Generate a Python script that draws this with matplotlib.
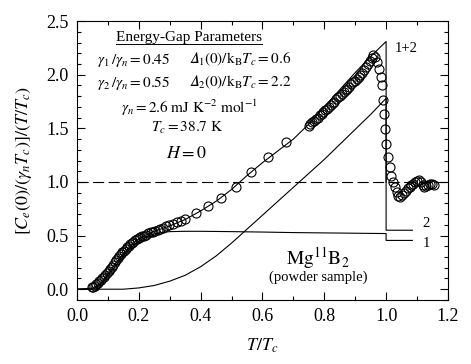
import matplotlib
matplotlib.use("Agg")
from matplotlib import pyplot as plt
from matplotlib.ticker import MultipleLocator, FormatStrFormatter

# measured C/T data (T/Tc, C/(gamma_n T))
t_data = [0.047, 0.052, 0.057, 0.062, 0.067, 0.072, 0.077, 0.082, 0.087, 0.092,
          0.097, 0.102, 0.107, 0.112, 0.117, 0.122, 0.127, 0.132, 0.137, 0.142,
          0.147, 0.152, 0.157, 0.162, 0.167, 0.172, 0.177, 0.182, 0.187, 0.193,
          0.199, 0.205, 0.211, 0.217, 0.224, 0.231, 0.238, 0.245, 0.253, 0.261,
          0.270, 0.279, 0.289, 0.299, 0.310, 0.322, 0.335, 0.350,
          0.385, 0.424, 0.466, 0.513, 0.563, 0.617, 0.676,
          0.749, 0.755, 0.761, 0.767, 0.773, 0.779, 0.785, 0.791, 0.797, 0.803,
          0.809, 0.815, 0.821, 0.827, 0.833, 0.839, 0.845, 0.851, 0.857, 0.863,
          0.869, 0.875, 0.881, 0.887, 0.893, 0.899, 0.905, 0.911, 0.917, 0.923,
          0.929, 0.935, 0.941, 0.947, 0.953, 0.959, 0.965,
          0.972, 0.978, 0.983, 0.986, 0.989, 0.994, 0.997, 1.001, 1.006, 1.012,
          1.017, 1.022, 1.028, 1.034, 1.040, 1.046, 1.052, 1.058, 1.064, 1.070,
          1.076, 1.082, 1.088, 1.094, 1.100, 1.106, 1.112, 1.118, 1.124, 1.130,
          1.136, 1.142, 1.148, 1.154]
c_data = [0.016, 0.02, 0.03, 0.045, 0.06, 0.075, 0.085, 0.10, 0.115, 0.13,
          0.15, 0.17, 0.19, 0.21, 0.23, 0.25, 0.27, 0.29, 0.31, 0.33,
          0.345, 0.36, 0.375, 0.39, 0.405, 0.42, 0.43, 0.44, 0.455, 0.465,
          0.475, 0.485, 0.495, 0.50, 0.51, 0.52, 0.53, 0.535, 0.545, 0.555,
          0.565, 0.575, 0.585, 0.60, 0.61, 0.625, 0.64, 0.655,
          0.71, 0.775, 0.853, 0.95, 1.09, 1.23, 1.37,
          1.525, 1.54, 1.555, 1.57, 1.585, 1.60, 1.62, 1.635, 1.65, 1.67,
          1.685, 1.70, 1.72, 1.735, 1.75, 1.77, 1.79, 1.80, 1.82, 1.84,
          1.86, 1.87, 1.89, 1.91, 1.93, 1.945, 1.96, 1.98, 2.00, 2.02,
          2.04, 2.07, 2.10, 2.13, 2.16, 2.18, 2.17,
          2.12, 2.05, 1.98, 1.90, 1.765, 1.63, 1.49, 1.355, 1.237, 1.14,
          1.06, 1.00, 0.95, 0.905, 0.87, 0.86, 0.88, 0.90, 0.92, 0.94,
          0.95, 0.97, 0.98, 1.00, 1.01, 1.02, 1.00, 0.97, 0.95, 0.96,
          0.97, 0.98, 0.98, 0.975]

# two-gap model curves
t_sum = [0.0, 0.05, 0.075, 0.1, 0.125, 0.15, 0.175, 0.2, 0.225, 0.25, 0.3, 0.35,
         0.4, 0.45, 0.5, 0.55, 0.6, 0.65, 0.7, 0.75, 0.8, 0.85, 0.9, 0.95, 1.0, 1.0]
c_sum = [0.0, 0.01, 0.05, 0.14, 0.24, 0.33, 0.41, 0.47, 0.51, 0.54, 0.59, 0.65,
         0.73, 0.82, 0.93, 1.06, 1.18, 1.29, 1.40, 1.54, 1.70, 1.86, 2.02, 2.17, 2.31, 1.0]

t_gap1 = [0.0, 0.05, 0.075, 0.1, 0.125, 0.15, 0.175, 0.2, 0.225, 0.25, 0.275, 0.3,
          0.35, 0.4, 0.5, 0.6, 0.7, 0.8, 0.9, 1.0, 1.0, 1.085]
c_gap1 = [0.0, 0.0, 0.04, 0.12, 0.22, 0.31, 0.39, 0.45, 0.49, 0.515, 0.53, 0.537,
          0.54, 0.54, 0.537, 0.533, 0.528, 0.525, 0.522, 0.519, 0.455, 0.455]

t_gap2 = [0.0, 0.15, 0.2, 0.25, 0.3, 0.35, 0.4, 0.45, 0.5, 0.55, 0.6, 0.65, 0.7,
          0.75, 0.8, 0.85, 0.9, 0.95, 1.0, 1.0, 1.085]
c_gap2 = [0.0, 0.0, 0.012, 0.035, 0.075, 0.13, 0.21, 0.31, 0.43, 0.56, 0.69, 0.82,
          0.95, 1.08, 1.21, 1.35, 1.49, 1.63, 1.78, 0.55, 0.55]

plt.rcParams['font.family'] = ['Liberation Serif', 'DejaVu Serif']
plt.rcParams['mathtext.fontset'] = 'custom'
plt.rcParams['mathtext.rm'] = 'STIXGeneral'
plt.rcParams['mathtext.it'] = 'STIXGeneral:italic'
plt.rcParams['mathtext.bf'] = 'STIXGeneral:bold'

fig = plt.figure(figsize=(4.71, 3.64), dpi=100)
ax = fig.add_axes([0.1635, 0.176, 0.7875, 0.766])

ax.axhline(1.0, color='black', lw=0.8, dashes=(10, 4))
ax.plot(t_sum, c_sum, color='black', lw=0.8)
ax.plot(t_gap1, c_gap1, color='black', lw=0.8)
ax.plot(t_gap2, c_gap2, color='black', lw=0.8)
ax.plot(t_data, c_data, 'o', mfc='none', mec='black', mew=0.8, ms=6.5)

ax.set_xlim(0, 1.2)
ax.set_ylim(-0.1, 2.5)
ax.xaxis.set_major_locator(MultipleLocator(0.2))
ax.xaxis.set_minor_locator(MultipleLocator(0.1))
ax.yaxis.set_major_locator(MultipleLocator(0.5))
ax.yaxis.set_minor_locator(MultipleLocator(0.1))
ax.tick_params(which='both', direction='in', top=True, right=True, labelsize=13, width=0.8)
ax.tick_params(which='major', length=6, pad=6)
ax.tick_params(which='minor', length=3)
ax.xaxis.set_major_formatter(FormatStrFormatter('%.1f'))
ax.yaxis.set_major_formatter(FormatStrFormatter('%.1f'))
for s in ax.spines.values():
    s.set_linewidth(0.8)

ax.set_xlabel(r'$T/T_c$', fontsize=13, labelpad=8)
ax.set_ylabel(r'$[C_e(0)/(\gamma_n T_c)]/(T/T_c)$', fontsize=13, labelpad=9)

fs = 11
title = ax.text(0.363, 2.344, 'Energy-Gap Parameters', ha='center', va='center', fontsize=fs)
ax.text(0.064, 2.14, r'$\gamma_{\mathit{1}}\,/\gamma_n = 0.45$', ha='left', va='center', fontsize=fs)
ax.text(0.363, 2.14, r'$𝛥_{\mathit{1}}(0)/\mathrm{k_B}T_c = 0.6$', ha='left', va='center', fontsize=fs)
ax.text(0.064, 1.925, r'$\gamma_{\mathit{2}}\,/\gamma_n = 0.55$', ha='left', va='center', fontsize=fs)
ax.text(0.363, 1.925, r'$𝛥_{\mathit{2}}(0)/\mathrm{k_B}T_c = 2.2$', ha='left', va='center', fontsize=fs)
ax.text(0.363, 1.69, r'$\gamma_n = 2.6\ \mathrm{mJ\ K^{-2}\ mol^{-1}}$', ha='center', va='center', fontsize=fs)
ax.text(0.355, 1.50, r'$T_c = 38.7\ \mathrm{K}$', ha='center', va='center', fontsize=fs)
ax.text(0.355, 1.27, r'$H = 0$', ha='center', va='center', fontsize=13)

ax.text(0.78, 0.29, r'$\mathrm{Mg^{11}B_2}$', ha='center', va='center', fontsize=14)
ax.text(0.78, 0.11, '(powder sample)', ha='center', va='center', fontsize=10.5)
ax.text(1.065, 2.24, '1+2', ha='center', va='center', fontsize=10.5)
ax.text(1.13, 0.61, '2', ha='center', va='center', fontsize=10.5)
ax.text(1.13, 0.43, '1', ha='center', va='center', fontsize=10.5)

# underline the block title
fig.canvas.draw()
bb = title.get_window_extent().transformed(ax.transData.inverted())
ax.plot([bb.x0, bb.x1], [bb.y0 + 0.005, bb.y0 + 0.005], color='black', lw=0.7)

fig.savefig('out.png', dpi=100)
